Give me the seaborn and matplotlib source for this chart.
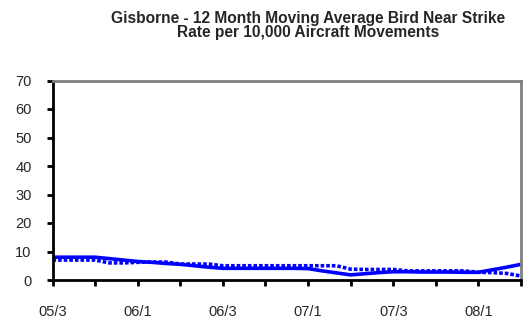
import matplotlib
matplotlib.use("Agg")
import matplotlib.pyplot as plt
import seaborn as sns
import pandas as pd

# Monthly 12-month moving average rates (per 10,000 aircraft movements)
months = list(range(34))
rate_solid = [8.0, 8.0, 8.0, 8.0, 7.5, 7.0, 6.5, 6.2, 5.8, 5.5, 5.0, 4.5,
              4.1, 4.1, 4.1, 4.1, 4.1, 4.1, 4.0, 3.2, 2.5, 1.8, 2.2, 2.6,
              2.9, 2.9, 2.8, 2.8, 2.8, 2.7, 2.7, 3.6, 4.5, 5.5]
rate_dashed = [7.0, 7.0, 7.0, 7.0, 6.0, 6.0, 6.2, 6.3, 6.3, 5.6, 5.6, 5.6,
               5.0, 5.0, 5.0, 5.0, 5.0, 5.0, 5.0, 5.0, 5.0, 3.8, 3.7, 3.7,
               3.7, 3.2, 3.2, 3.2, 3.2, 3.2, 2.7, 2.6, 2.3, 1.4]
tick_months = list(range(0, 34, 3))
tick_labels = ["05/3", "", "06/1", "", "06/3", "", "07/1", "", "07/3", "", "08/1", ""]
y_ticks = [0, 10, 20, 30, 40, 50, 60, 70]

df = pd.DataFrame({
    "month": months * 2,
    "rate": rate_solid + rate_dashed,
    "series": ["solid"] * len(months) + ["dashed"] * len(months),
})

sns.set_style("white")
plt.rcParams["font.family"] = ["Liberation Sans", "DejaVu Sans"]

fig = plt.figure(figsize=(5.29, 3.22), dpi=100)
ax = fig.add_axes([52.5 / 529, 1 - 280 / 322, (521 - 52.5) / 529, (280 - 80.5) / 322])

sns.lineplot(data=df[df.series == "solid"], x="month", y="rate", ax=ax,
             color="#0000FF", linewidth=2.6, legend=False)
sns.lineplot(data=df[df.series == "dashed"], x="month", y="rate", ax=ax,
             color="#0000FF", linewidth=2.6, legend=False)
ax.lines[1].set_dashes([1.0, 0.55])
ax.lines[1].set_dash_capstyle("butt")

ax.set_xlim(0, 33)
ax.set_ylim(0, 70)
ax.set_xticks(tick_months)
ax.set_xticklabels(tick_labels)
ax.set_yticks(y_ticks)
ax.set_xlabel("")
ax.set_ylabel("")

for side in ("left", "bottom"):
    ax.spines[side].set_color("black")
    ax.spines[side].set_linewidth(2.0)
for side in ("top", "right"):
    ax.spines[side].set_visible(True)
    ax.spines[side].set_color("#808080")
    ax.spines[side].set_linewidth(2.0)

ax.tick_params(axis="x", direction="out", length=4, width=2, color="black",
               pad=14, labelsize=10.5, bottom=True)
ax.tick_params(axis="y", direction="out", length=4, width=2, color="black",
               pad=11, labelsize=10.5, left=True)

fig.text(308 / 529, 1 - 10.5 / 322,
         "Gisborne - 12 Month Moving Average Bird Near Strike\nRate per 10,000 Aircraft Movements",
         ha="center", va="top", fontsize=11.2, fontweight="bold", linespacing=1.0)

fig.savefig("out.png", dpi=100)
